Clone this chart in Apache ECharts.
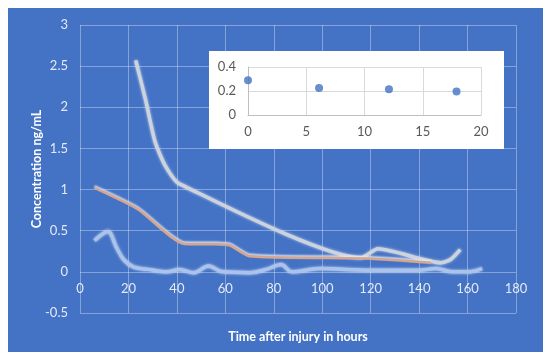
<!DOCTYPE html>
<html>
<head>
<meta charset="utf-8">
<script src="https://cdn.jsdelivr.net/npm/echarts@6/dist/echarts.min.js"></script>
<style>
html,body{margin:0;padding:0;background:#fff;}
#c{position:absolute;left:8px;top:8px;width:535px;height:344px;background:#4472C4;}
</style>
</head>
<body>
<div id="c"></div>
<script>
// Main chart data: [hours, ng/mL]
const seriesTop = [[23,2.57],[27,2.1],[31,1.58],[35,1.3],[41,1.07],[116,0.17],[123,0.28],[149,0.11],[153,0.15],[157,0.27]];
const seriesOrange = [[6,1.02],[24,0.76],[43,0.34],[55,0.335],[62,0.32],[70,0.19],[120,0.16],[145,0.11]];
const seriesLow = [[6,0.38],[11.5,0.49],[15,0.3],[18,0.15],[22,0.06],[28,0.03],[36,0.0],[41,0.03],[47,-0.01],[53,0.07],[59,0.0],[70,-0.01],[77,0.03],[83,0.09],[87.5,0.0],[99,0.04],[120,0.02],[140,0.02],[147,0.04],[154,0.0],[160,0.0],[166,0.04]];
// Inset data
const insetPoints = [[0,0.29],[6.1,0.224],[12.1,0.215],[17.9,0.196]];
const xTitle = 'Time after injury in hours';
const yTitle = 'Concentration ng/mL';

const chart = echarts.init(document.getElementById('c'));
const labelColor = 'rgba(255,255,255,0.85)';
const gridLine = 'rgba(255,255,255,0.35)';
const glow = {shadowColor:'rgba(255,255,255,0.7)', shadowBlur:3};
chart.setOption({
  backgroundColor:'#4472C4',
  animation:false,
  graphic:[{type:'rect', left:201, top:43, shape:{width:295, height:98}, style:{fill:'#fff'}, z:5}],
  grid:[
    {left:72, top:17, right:27, bottom:39, containLabel:false, outerBoundsMode:'none'},
    {left:240, top:59, width:233, height:48, z:10, containLabel:false, outerBoundsMode:'none'}
  ],
  xAxis:[
    {type:'value', gridIndex:0, min:0, max:180, interval:20, offset:-41,
     axisLine:{show:false, onZero:false}, axisTick:{show:false},
     axisLabel:{color:labelColor, fontFamily:'Lato', fontSize:13, margin:10},
     splitLine:{lineStyle:{color:gridLine, width:1}},
     name:xTitle, nameLocation:'middle', nameGap:58, nameMoveOverlap:false,
     nameTextStyle:{color:'#fff', fontFamily:'Lato', fontWeight:'bold', fontSize:12.5}},
    {type:'value', gridIndex:1, min:0, max:20, interval:5, z:10,
     axisLine:{show:true, onZero:false, lineStyle:{color:'#BFBFBF'}}, axisTick:{show:false},
     axisLabel:{color:'#595959', fontFamily:'Lato', fontSize:13, margin:10},
     splitLine:{lineStyle:{color:'#D9D9D9'}}}
  ],
  yAxis:[
    {type:'value', gridIndex:0, min:-0.5, max:3, interval:0.5,
     axisLine:{show:false, onZero:false}, axisTick:{show:false},
     axisLabel:{color:labelColor, fontFamily:'Lato', fontSize:13, margin:12},
     splitLine:{lineStyle:{color:gridLine, width:1}},
     name:yTitle, nameLocation:'middle', nameGap:37, nameMoveOverlap:false,
     nameTextStyle:{color:'#fff', fontFamily:'Lato', fontWeight:'bold', fontSize:12.5}},
    {type:'value', gridIndex:1, min:0, max:0.4, interval:0.2, z:10,
     axisLine:{show:true, onZero:false, lineStyle:{color:'#BFBFBF'}}, axisTick:{show:false},
     axisLabel:{color:'#595959', fontFamily:'Lato', fontSize:13, margin:12},
     splitLine:{lineStyle:{color:'#D9D9D9'}}}
  ],
  series:[
    {type:'line', xAxisIndex:0, yAxisIndex:0, data:seriesTop, smooth:0.2, showSymbol:false,
     lineStyle:Object.assign({color:'#CDD3DD', width:3.5}, glow)},
    {type:'line', xAxisIndex:0, yAxisIndex:0, data:seriesOrange, smooth:0.2, showSymbol:false,
     lineStyle:{color:'#D6A58C', width:2.5, shadowColor:'rgba(225,232,245,0.95)', shadowBlur:2, shadowOffsetY:-1.5}},
    {type:'line', xAxisIndex:0, yAxisIndex:0, data:seriesLow, smooth:0.35, showSymbol:false,
     lineStyle:Object.assign({color:'#A9C3EC', width:3.5}, glow)},
    {type:'scatter', xAxisIndex:1, yAxisIndex:1, data:insetPoints, symbolSize:8, z:12,
     itemStyle:{color:'#4472C4'}}
  ]
});
</script>
</body>
</html>
